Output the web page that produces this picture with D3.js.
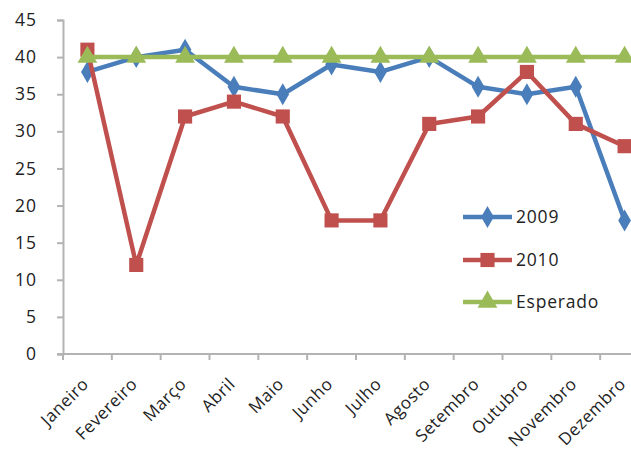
<!DOCTYPE html>
<html><head><meta charset="utf-8">
<script src="https://cdn.jsdelivr.net/npm/d3@7"></script>
<style>body{margin:0;background:#fff}svg{display:block}</style>
</head><body><svg id="c" width="631" height="452"></svg>
<script>
const months = ["Janeiro","Fevereiro","Março","Abril","Maio","Junho","Julho","Agosto","Setembro","Outubro","Novembro","Dezembro"];
const s2009 = [38,40,41,36,35,39,38,40,36,35,36,18];
const s2010 = [41,12,32,34,32,18,18,31,32,38,31,28];
const esperado = [40,40,40,40,40,40,40,40,40,40,40,40];
const yTicks = [0,5,10,15,20,25,30,35,40,45];
const seriesNames = ["2009","2010","Esperado"];

const svg = d3.select("#c");
const font = "'Open Sans', sans-serif";
const x = d3.scaleBand().domain(months).range([63, 649]);
const y = d3.scaleLinear().domain([0,45]).range([354, 20]);
const axisColor = "#b3b3b3";

// y axis
const ya = svg.append("g").attr("transform","translate(63,0)")
  .call(d3.axisLeft(y).tickValues(yTicks).tickSize(6).tickPadding(20));
ya.select(".domain").attr("stroke",axisColor).attr("stroke-width",2);
ya.selectAll(".tick line").attr("stroke",axisColor).attr("stroke-width",2);
ya.selectAll("text").attr("font-family",font).attr("font-size",17.5).attr("fill","#222").attr("letter-spacing","1px");

// x axis
const xa = svg.append("g").attr("transform","translate(0,354)")
  .call(d3.axisBottom(x).tickSize(0).tickFormat(""));
xa.select(".domain").attr("stroke",axisColor).attr("stroke-width",2).attr("d","M57,0H649");
const bounds = months.map((m,i)=>63 + i*x.bandwidth()).concat([649]);
svg.append("g").selectAll("line").data(bounds).join("line")
  .attr("x1",d=>d).attr("x2",d=>d).attr("y1",354).attr("y2",360)
  .attr("stroke",axisColor).attr("stroke-width",2);
svg.append("g").selectAll("text").data(months).join("text")
  .attr("transform",d=>`translate(${x(d)+x.bandwidth()/2-2},${381}) rotate(-45)`)
  .attr("text-anchor","end").attr("dy","0.35em")
  .attr("font-family",font).attr("font-size",17).attr("fill","#222")
  .attr("letter-spacing","0.5px")
  .text(d=>d);

const cx = (d,i)=>x(months[i])+x.bandwidth()/2;
const line = d3.line().x(cx).y(d=>y(d));
const colors = ["#4a7ebb","#c0504d","#9bbb59"];
const data = [s2009, s2010, esperado];
const symbols = [d3.symbolDiamond, d3.symbolSquare, d3.symbolTriangle];
const sizes = [140, 200, 170];

data.forEach((vals,k)=>{
  const g = svg.append("g");
  g.append("path").attr("d",line(vals)).attr("fill","none")
    .attr("stroke",colors[k]).attr("stroke-width",4.5).attr("stroke-linejoin","round");
  g.selectAll("path.m").data(vals).join("path").attr("class","m")
    .attr("transform",(d,i)=>`translate(${cx(d,i)},${y(d)})`)
    .attr("d",d3.symbol().type(symbols[k]).size(sizes[k]))
    .attr("fill",colors[k]);
});

// legend
const leg = svg.append("g");
const ly = [217, 260, 302];
seriesNames.forEach((n,k)=>{
  leg.append("line").attr("x1",463).attr("x2",512).attr("y1",ly[k]).attr("y2",ly[k])
    .attr("stroke",colors[k]).attr("stroke-width",4.5);
  leg.append("path").attr("transform",`translate(487.5,${ly[k]})`)
    .attr("d",d3.symbol().type(symbols[k]).size(sizes[k])).attr("fill",colors[k]);
  leg.append("text").attr("x",516).attr("y",ly[k]).attr("dy","0.35em")
    .attr("font-family",font).attr("font-size",17.5).attr("fill","#222")
    .attr("letter-spacing","0.8px").text(n);
});
</script></body></html>
